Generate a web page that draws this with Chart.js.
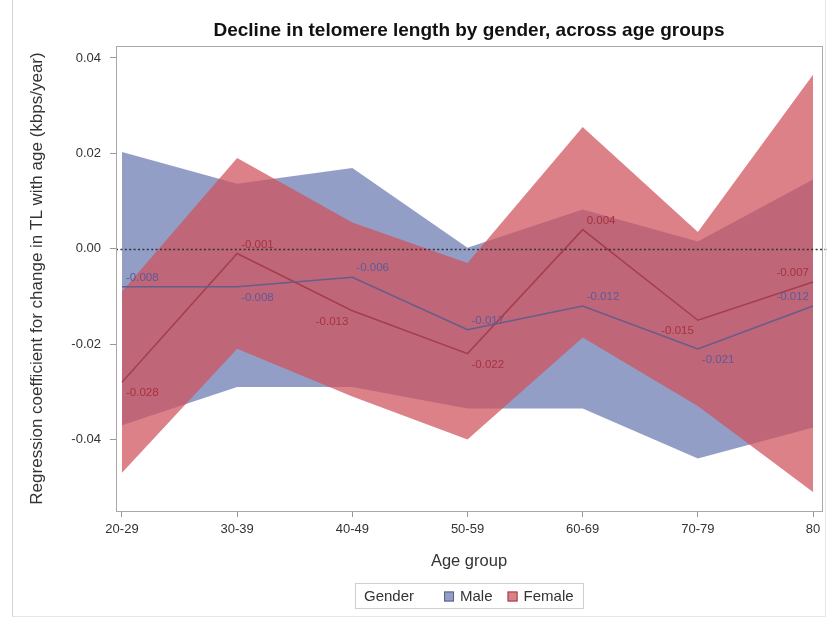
<!DOCTYPE html>
<html>
<head>
<meta charset="utf-8">
<script src="https://cdn.jsdelivr.net/npm/chart.js@4.4.1/dist/chart.umd.min.js"></script>
<style>
  html, body { margin: 0; padding: 0; background: #fff; }
  #wrap { position: relative; width: 827px; height: 621px; }
  #wrap canvas { position: absolute; left: 0; top: 0; }
  #frame { position: absolute; left: 12px; top: 0; width: 812px; height: 616px;
           border-left: 1px solid #d6d6d6; border-right: 1px solid #e6e6e6;
           border-bottom: 1px solid #e6e6e6; pointer-events: none; }
</style>
</head>
<body>
<div id="wrap">
  <canvas id="chart" width="827" height="621"></canvas>
  <div id="frame"></div>
</div>
<script>
// Age groups on the x axis
const ageGroups = ['20-29', '30-39', '40-49', '50-59', '60-69', '70-79', '80'];

// Regression coefficients (kbps/year) and 95% confidence limits
const maleEstimate   = [-0.008, -0.008, -0.006, -0.017, -0.012, -0.021, -0.012];
const maleUpper      = [0.0203, 0.0136, 0.0169, 0.0002, 0.0082, 0.0015, 0.0145];
const maleLower      = [-0.037, -0.029, -0.029, -0.0335, -0.0335, -0.044, -0.0375];

const femaleEstimate = [-0.028, -0.001, -0.013, -0.022, 0.004, -0.015, -0.007];
const femaleUpper    = [-0.009, 0.019, 0.0055, -0.003, 0.0255, 0.0035, 0.0365];
const femaleLower    = [-0.047, -0.021, -0.031, -0.040, -0.0186, -0.033, -0.051];

// y axis tick values
const yTickValues = [-0.04, -0.02, 0.00, 0.02, 0.04];

// where each value label sits relative to its point
const maleLabelPlace   = ['ne', 'se', 'ne', 'ne', 'ne', 'se', 'nw'];
const femaleLabelPlace = ['se', 'ne', 'sw', 'se', 'ne', 'sw', 'nw'];

const FONT = '"Liberation Sans", Arial, Helvetica, sans-serif';
const MALE_FILL = 'rgba(111,126,179,0.75)';
const FEMALE_FILL = 'rgba(208,80,90,0.72)';
const MALE_LINE = '#675c8c';
const FEMALE_LINE = '#a63d4c';
const MALE_TEXT = '#5b5a9c';
const FEMALE_TEXT = '#a8323f';

const toXY = arr => arr.map((v, i) => ({ x: i, y: v }));

// Dotted reference line at zero, plus the frame round the plot area
const framePlugin = {
  id: 'frameAndZero',
  afterDatasetsDraw(chart) {
    const { ctx, chartArea: a, scales } = chart;
    const y0 = scales.y.getPixelForValue(0);
    ctx.save();
    ctx.strokeStyle = '#333';
    ctx.lineWidth = 1.6;
    ctx.setLineDash([2, 2.4]);
    ctx.beginPath();
    ctx.moveTo(a.left, Math.round(y0) + 0.5);
    ctx.lineTo(chart.width, Math.round(y0) + 0.5);
    ctx.stroke();
    ctx.setLineDash([]);
    ctx.lineWidth = 1;
    ctx.strokeStyle = '#a8a8a8';
    ctx.strokeRect(Math.round(a.left) + 0.5, Math.round(a.top) + 0.5,
                   Math.round(a.right - a.left), Math.round(a.bottom - a.top));
    ctx.restore();
  }
};

// Value labels beside each estimate point
const valueLabelPlugin = {
  id: 'valueLabels',
  afterDatasetsDraw(chart) {
    const { ctx } = chart;
    const sets = [
      { idx: 0, values: maleEstimate, place: maleLabelPlace, color: MALE_TEXT },
      { idx: 1, values: femaleEstimate, place: femaleLabelPlace, color: FEMALE_TEXT }
    ];
    ctx.save();
    ctx.font = '11.5px ' + FONT;
    ctx.textBaseline = 'middle';
    sets.forEach(s => {
      const meta = chart.getDatasetMeta(s.idx);
      meta.data.forEach((pt, i) => {
        const p = s.place[i];
        const east = p[1] === 'e';
        const north = p[0] === 'n';
        ctx.fillStyle = s.color;
        ctx.textAlign = east ? 'left' : 'right';
        ctx.fillText(s.values[i].toFixed(3), pt.x + (east ? 4 : -4), pt.y + (north ? -9 : 11));
      });
    });
    ctx.restore();
  }
};

// Title above the plot and the boxed legend below it
const titleLegendPlugin = {
  id: 'titleLegend',
  afterDraw(chart) {
    const { ctx, chartArea: a } = chart;
    const cx = (a.left + a.right) / 2;
    ctx.save();
    ctx.fillStyle = '#111';
    ctx.font = 'bold 19px ' + FONT;
    ctx.textAlign = 'center';
    ctx.textBaseline = 'middle';
    ctx.fillText('Decline in telomere length by gender, across age groups', cx, 31);

    ctx.font = '15px ' + FONT;
    const items = [
      { label: chart.data.datasets[4].label, fill: MALE_FILL, edge: '#59608a' },
      { label: chart.data.datasets[2].label, fill: FEMALE_FILL, edge: '#9a3c48' }
    ];
    const head = 'Gender';
    const sq = 10, gapSq = 6, gapItem = 15, gapHead = 30, padX = 9;
    let w = ctx.measureText(head).width + gapHead;
    items.forEach((it, k) => {
      w += sq + gapSq + ctx.measureText(it.label).width + (k < items.length - 1 ? gapItem : 0);
    });
    const boxW = w + padX * 2, boxH = 25, boxY = 583;
    const boxX = Math.round(cx - boxW / 2);
    ctx.strokeStyle = '#cfcfcf';
    ctx.lineWidth = 1;
    ctx.strokeRect(boxX + 0.5, boxY + 0.5, Math.round(boxW), boxH);
    const ty = boxY + boxH / 2 + 1;
    let x = boxX + padX;
    ctx.textAlign = 'left';
    ctx.fillStyle = '#333';
    ctx.fillText(head, x, ty);
    x += ctx.measureText(head).width + gapHead;
    items.forEach(it => {
      ctx.fillStyle = '#fff';
      ctx.fillRect(x, ty - sq / 2, sq, sq);
      ctx.fillStyle = it.fill;
      ctx.fillRect(x, ty - sq / 2, sq, sq);
      ctx.strokeStyle = it.edge;
      ctx.strokeRect(x + 0.5, ty - sq / 2 + 0.5, sq - 1, sq - 1);
      x += sq + gapSq;
      ctx.fillStyle = '#333';
      ctx.fillText(it.label, x, ty);
      x += ctx.measureText(it.label).width + gapItem;
    });
    ctx.restore();
  }
};

new Chart(document.getElementById('chart'), {
  type: 'line',
  data: {
    datasets: [
      { label: 'Male estimate', data: toXY(maleEstimate), borderColor: MALE_LINE,
        borderWidth: 1.5, pointRadius: 0, fill: false, order: 0, tension: 0 },
      { label: 'Female estimate', data: toXY(femaleEstimate), borderColor: FEMALE_LINE,
        borderWidth: 1.5, pointRadius: 0, fill: false, order: 0, tension: 0 },
      { label: 'Female', data: toXY(femaleUpper), borderWidth: 0, borderColor: 'rgba(0,0,0,0)',
        backgroundColor: FEMALE_FILL, pointRadius: 0, fill: '+1', order: 1 },
      { label: 'Female lower', data: toXY(femaleLower), borderWidth: 0, borderColor: 'rgba(0,0,0,0)',
        pointRadius: 0, fill: false, order: 1 },
      { label: 'Male', data: toXY(maleUpper), borderWidth: 0, borderColor: 'rgba(0,0,0,0)',
        backgroundColor: MALE_FILL, pointRadius: 0, fill: '+1', order: 2 },
      { label: 'Male lower', data: toXY(maleLower), borderWidth: 0, borderColor: 'rgba(0,0,0,0)',
        pointRadius: 0, fill: false, order: 2 }
    ]
  },
  options: {
    responsive: false,
    animation: false,
    devicePixelRatio: 1,
    layout: { padding: { top: 46, right: 5, bottom: 50, left: 0 } },
    plugins: {
      legend: { display: false },
      title: { display: false },
      tooltip: { enabled: false },
      filler: { propagate: false }
    },
    scales: {
      x: {
        type: 'linear',
        min: -0.052,
        max: 6.078,
        afterFit: s => { s.height = 60; },
        afterBuildTicks: s => { s.ticks = ageGroups.map((_, i) => ({ value: i })); },
        ticks: {
          autoSkip: false,
          maxRotation: 0,
          padding: 5,
          color: '#333',
          font: { family: FONT, size: 13 },
          callback: v => ageGroups[v]
        },
        grid: { display: true, drawOnChartArea: false, drawTicks: true, tickLength: 6, color: '#999' },
        border: { display: true, color: '#a8a8a8' },
        title: { display: true, text: 'Age group', color: '#333',
                 font: { family: FONT, size: 16.5 }, padding: { top: 0, bottom: 0 } }
      },
      y: {
        min: -0.055,
        max: 0.0425,
        afterFit: s => { s.width = 116; },
        afterBuildTicks: s => { s.ticks = yTickValues.map(v => ({ value: v })); },
        ticks: {
          padding: 9,
          color: '#333',
          font: { family: FONT, size: 13 },
          callback: v => Number(v).toFixed(2)
        },
        grid: { display: true, drawOnChartArea: false, drawTicks: true, tickLength: 6, color: '#999' },
        border: { display: true, color: '#a8a8a8' },
        title: { display: true, text: 'Regression coefficient for change in TL with age (kbps/year)',
                 color: '#333', font: { family: FONT, size: 17 }, padding: { top: 27, bottom: 0 } }
      }
    }
  },
  plugins: [framePlugin, valueLabelPlugin, titleLegendPlugin]
});
</script>
</body>
</html>
